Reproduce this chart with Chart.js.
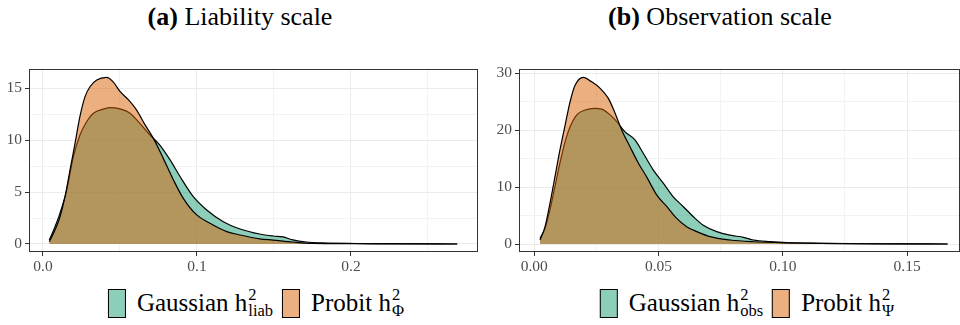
<!DOCTYPE html>
<html>
<head>
<meta charset="utf-8">
<script src="https://cdn.jsdelivr.net/npm/chart.js@4.4.1/dist/chart.umd.min.js"></script>
<style>
  body { margin: 0; background: #fff; font-family: "Liberation Serif", serif; }
  #wrap { position: relative; width: 960px; height: 325px; overflow: hidden; }
  .panel { position: absolute; top: 0; width: 480px; height: 285px; }
  .title { position: absolute; top: 2px; width: 480px; text-align: center; font-size: 26px; color: #000; }
  .legend { position: absolute; top: 287px; height: 32px; display: flex; align-items: center; font-size: 25px; color: #000; white-space: nowrap; transform: translateX(-50%); }
  .key { display: inline-block; width: 16px; height: 27px; border: 1.3px solid #000; margin-right: 11px; }
  .item { display: flex; align-items: center; margin-right: 9px; }
  .item:last-child { margin-right: 0; }
  .ss { display: inline-flex; flex-direction: column; font-size: 0.66em; line-height: 0.95; vertical-align: -0.42em; margin-left: 1px; }
</style>
</head>
<body>
<div id="wrap">
  <div class="title" style="left:0"><b>(a)</b> Liability scale</div>
  <div class="title" style="left:480px"><b>(b)</b> Observation scale</div>
  <div class="panel" style="left:0"><canvas id="liabChart"></canvas></div>
  <div class="panel" style="left:480px"><canvas id="obsChart"></canvas></div>
  <div class="legend" id="liabLegend" style="left:256px"></div>
  <div class="legend" id="obsLegend" style="left:747px"></div>
</div>
<script>
// Liability scale densities
const liabGaussX = [0.0041, 0.0078, 0.011, 0.0154, 0.0197, 0.024, 0.0284, 0.0327, 0.0392, 0.0446, 0.0511, 0.0565, 0.063, 0.0695, 0.076, 0.0825, 0.089, 0.0976, 0.1063, 0.1171, 0.128, 0.1407, 0.1494, 0.1558, 0.1623, 0.171, 0.1818, 0.2035, 0.225, 0.269];
const liabGaussY = [0.38, 1.67, 2.95, 5.2, 8.4, 10.5, 11.8, 12.6, 13.0, 13.13, 12.97, 12.6, 11.6, 10.5, 9.5, 8.1, 6.5, 4.56, 3.28, 2.15, 1.45, 0.96, 0.77, 0.68, 0.39, 0.19, 0.1, 0.05, 0.03, 0.0];
const liabProbitX = [0.0041, 0.0078, 0.011, 0.0143, 0.0175, 0.0208, 0.024, 0.0273, 0.0305, 0.0349, 0.0413, 0.0457, 0.05, 0.0554, 0.0608, 0.0662, 0.0716, 0.0781, 0.0846, 0.0911, 0.0998, 0.1084, 0.1193, 0.128, 0.1407, 0.1494, 0.1623, 0.175, 0.2, 0.23, 0.269];
const liabProbitY = [0.22, 1.35, 2.6, 4.56, 7.1, 9.7, 12.3, 14.2, 15.15, 15.8, 16.05, 15.6, 14.7, 13.9, 12.9, 11.5, 10.2, 8.25, 6.2, 4.4, 2.8, 2.0, 1.19, 0.87, 0.5, 0.38, 0.19, 0.06, 0.03, 0.01, 0.0];

// Observation scale densities
const obsGaussX = [0.0023, 0.0043, 0.0063, 0.0083, 0.0103, 0.0124, 0.0144, 0.0171, 0.0204, 0.0244, 0.0271, 0.0305, 0.0332, 0.0365, 0.0405, 0.0439, 0.0479, 0.0519, 0.0559, 0.0599, 0.064, 0.068, 0.0734, 0.0788, 0.0842, 0.0882, 0.0949, 0.1016, 0.115, 0.128, 0.145, 0.1663];
const obsGaussY = [1.0, 2.75, 6.0, 10.1, 14.2, 18.0, 20.6, 22.7, 23.55, 23.85, 23.7, 22.7, 21.5, 19.7, 18.3, 15.9, 13.0, 10.7, 8.3, 6.6, 4.8, 3.3, 2.17, 1.55, 1.17, 0.7, 0.41, 0.23, 0.12, 0.06, 0.03, 0.0];
const obsProbitX = [0.0023, 0.0043, 0.0063, 0.0083, 0.0103, 0.0124, 0.0144, 0.0164, 0.0197, 0.0231, 0.0264, 0.0298, 0.0325, 0.0352, 0.0385, 0.0419, 0.0452, 0.0493, 0.0533, 0.0573, 0.0613, 0.0654, 0.0707, 0.0788, 0.0882, 0.1016, 0.115, 0.13, 0.1663];
const obsProbitY = [0.7, 3.0, 7.15, 11.8, 16.5, 20.9, 25.0, 27.9, 29.3, 28.5, 27.4, 25.6, 23.0, 20.0, 17.1, 14.2, 11.8, 8.6, 6.6, 4.5, 3.05, 2.17, 1.29, 0.7, 0.4, 0.2, 0.1, 0.04, 0.0];

// Axis ticks
const liabXMajor = [0, 0.1, 0.2];
const liabXLabels = ["0.0", "0.1", "0.2"];
const liabXMinor = [0.05, 0.15, 0.25];
const liabYMajor = [0, 5, 10, 15];
const liabYMinor = [2.5, 7.5, 12.5];
const obsXMajor = [0, 0.05, 0.1, 0.15];
const obsXLabels = ["0.00", "0.05", "0.10", "0.15"];
const obsXMinor = [0.025, 0.075, 0.125];
const obsYMajor = [0, 10, 20, 30];
const obsYMinor = [5, 15, 25];

const GREEN = "rgba(27, 158, 119, 0.5)";
const ORANGE = "rgba(217, 95, 2, 0.5)";

function toPoints(xs, ys) {
  return xs.map((x, i) => ({ x: x, y: ys[i] }));
}

// panel border drawn on top of the fills, like ggplot's panel.border
const frame = {
  id: "frame",
  afterDatasetsDraw(chart) {
    const a = chart.chartArea, ctx = chart.ctx;
    ctx.save();
    ctx.strokeStyle = "#333333";
    ctx.lineWidth = 1;
    ctx.strokeRect(Math.round(a.left) + 0.5, Math.round(a.top) + 0.5, Math.round(a.right - a.left) - 1, Math.round(a.bottom - a.top) - 1);
    ctx.restore();
  }
};

function axis(major, minor, labels, min, max, size, isX) {
  const isMajor = v => major.some(m => Math.abs(m - v) < 1e-9);
  return {
    type: "linear",
    position: isX ? "bottom" : "left",
    min: min,
    max: max,
    afterBuildTicks: a => {
      a.ticks = major.concat(minor).sort((p, q) => p - q).map(v => ({ value: v }));
    },
    afterFit: a => {
      if (isX) a.height = size; else a.width = size;
    },
    border: { display: false },
    grid: {
      color: c => (c.tick && isMajor(c.tick.value)) ? "#EBEBEB" : "#F3F3F3",
      lineWidth: 1,
      drawTicks: true,
      tickLength: 4,
      tickColor: c => (c.tick && isMajor(c.tick.value)) ? "#333333" : "rgba(0,0,0,0)"
    },
    ticks: {
      autoSkip: false,
      maxRotation: 0,
      padding: isX ? 2 : 3,
      color: "#4D4D4D",
      font: { family: "Liberation Serif", size: 15.5 },
      callback: v => {
        const i = major.findIndex(m => Math.abs(m - v) < 1e-9);
        if (i < 0) return "";
        return labels ? labels[i] : String(major[i]);
      }
    }
  };
}

function buildPanel(id, gx, gy, px, py, xs, ys, rightPad) {
  const ctx = document.getElementById(id).getContext("2d");
  new Chart(ctx, {
    type: "line",
    data: {
      datasets: [
        {
          label: "Probit",
          data: toPoints(px, py),
          borderColor: "#000",
          borderWidth: 1.2,
          backgroundColor: ORANGE,
          fill: "origin",
          pointRadius: 0,
          cubicInterpolationMode: "monotone",
          order: 0
        },
        {
          label: "Gaussian",
          data: toPoints(gx, gy),
          borderColor: "#000",
          borderWidth: 1.2,
          backgroundColor: GREEN,
          fill: "origin",
          pointRadius: 0,
          cubicInterpolationMode: "monotone",
          order: 1
        }
      ]
    },
    options: {
      responsive: false,
      animation: false,
      layout: { padding: { top: 69, right: rightPad, left: 0, bottom: 0 } },
      plugins: { legend: { display: false }, tooltip: { enabled: false } },
      scales: { x: xs, y: ys }
    },
    plugins: [frame]
  });
}

document.getElementById("liabChart").width = 480;
document.getElementById("liabChart").height = 285;
document.getElementById("obsChart").width = 480;
document.getElementById("obsChart").height = 285;

buildPanel("liabChart", liabGaussX, liabGaussY, liabProbitX, liabProbitY,
  axis(liabXMajor, liabXMinor, liabXLabels, -0.00909, 0.28247, 33, true),
  axis(liabYMajor, liabYMinor, null, -0.771, 16.86, 29, false), 2);

buildPanel("obsChart", obsGaussX, obsGaussY, obsProbitX, obsProbitY,
  axis(obsXMajor, obsXMinor, obsXLabels, -0.00616, 0.1713, 33, true),
  axis(obsYMajor, obsYMinor, null, -1.406, 30.76, 39, false), 0);

function legend(id, gSub, pSub) {
  document.getElementById(id).innerHTML =
    '<span class="item"><span class="key" style="background:' + GREEN + '"></span>Gaussian h<span class="ss"><span>2</span><span>' + gSub + '</span></span></span>' +
    '<span class="item"><span class="key" style="background:' + ORANGE + '"></span>Probit h<span class="ss"><span>2</span><span>' + pSub + '</span></span></span>';
}
legend("liabLegend", "liab", "Φ");
legend("obsLegend", "obs", "Ψ");
</script>
</body>
</html>
